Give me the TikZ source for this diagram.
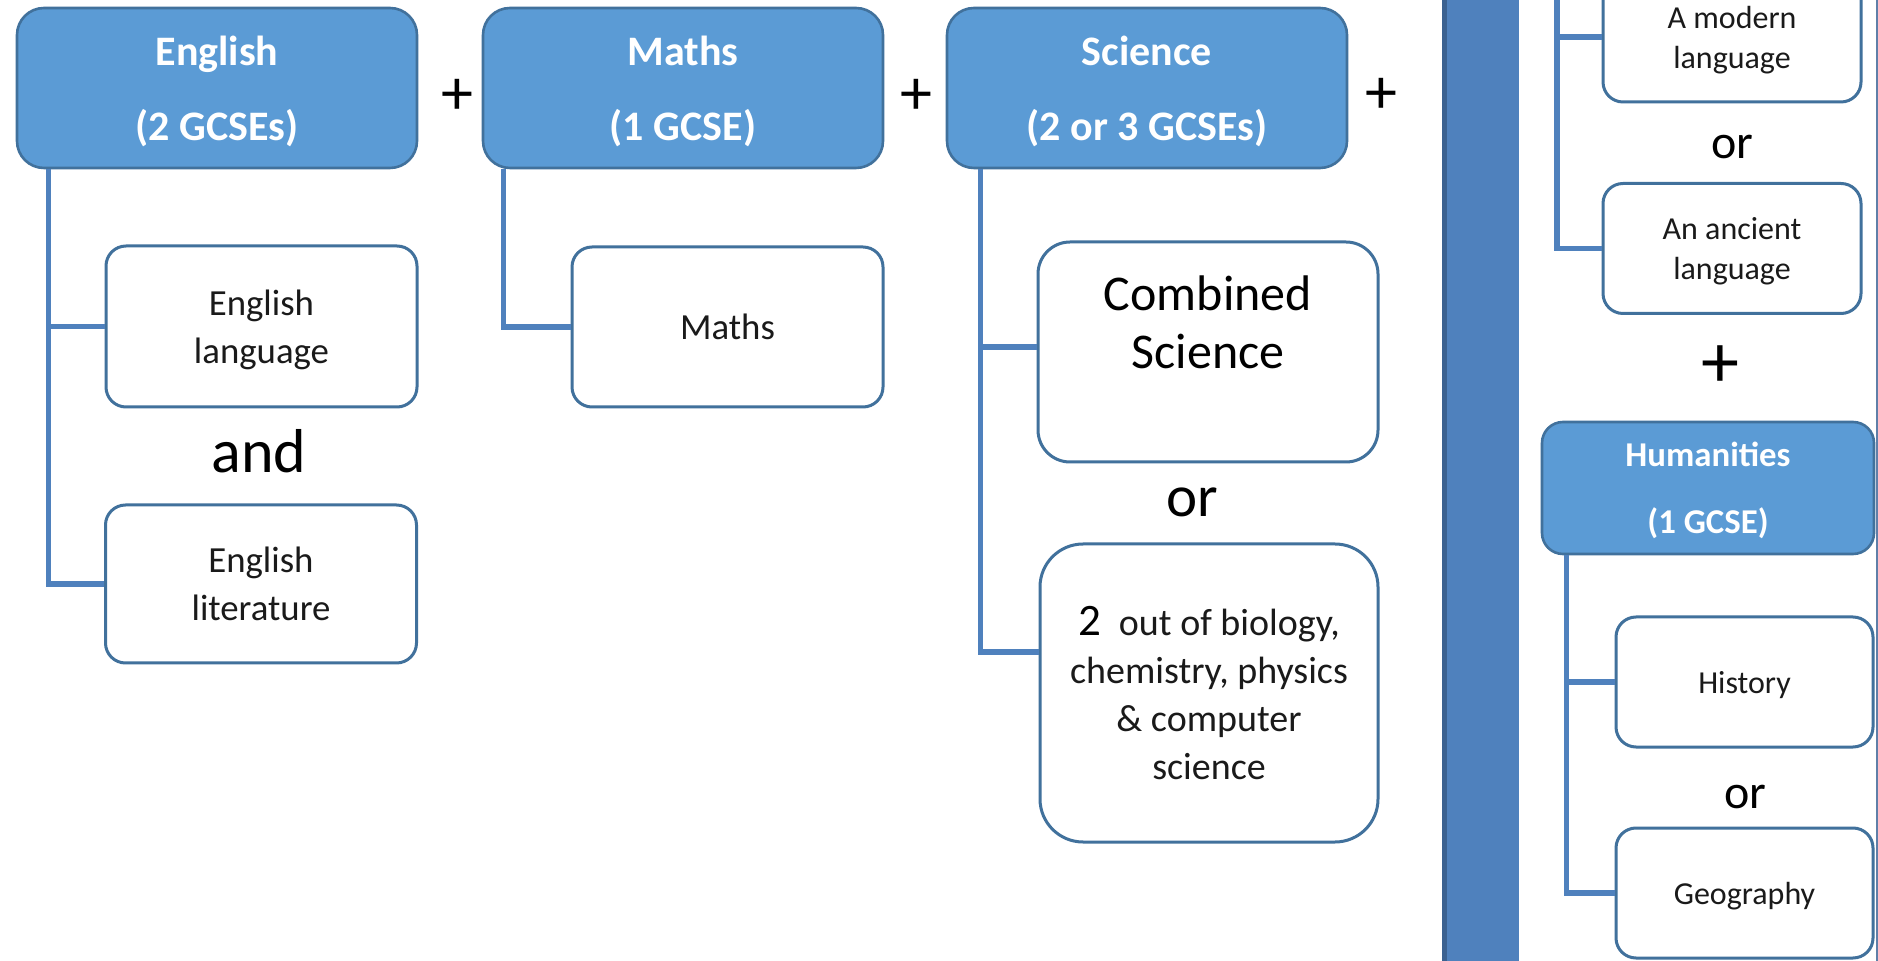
\documentclass[tikz,border=0pt]{standalone}
\usepackage{fontspec}
\setmainfont{Carlito}
\definecolor{hdrfill}{HTML}{5B9BD5}
\definecolor{hdrline}{HTML}{41719C}
\definecolor{boxline}{HTML}{41719C}
\definecolor{connline}{HTML}{4F81BD}
\definecolor{barfill}{HTML}{4F81BD}
\definecolor{bardark}{HTML}{3B6190}
\definecolor{edgeline}{HTML}{5F7FA8}
\definecolor{txt}{HTML}{1A1A1A}
\begin{document}
\begin{tikzpicture}[x=0.5pt,y=-0.5pt,
  hdr/.style={draw=hdrline, fill=hdrfill, line width=1.3pt, rounded corners=13.5pt,
    text=white, font=\bfseries\fontsize{21}{37.5}\selectfont, align=center,
    inner sep=0pt, text depth=0pt, minimum width=200pt, minimum height=80pt},
  smallhdr/.style={hdr, rounded corners=10.5pt, font=\bfseries\fontsize{17.4}{33.5}\selectfont,
    minimum width=166pt, minimum height=66pt},
  child/.style={draw=boxline, fill=white, line width=1.5pt, rounded corners=10pt,
    text=txt, font=\fontsize{18.4}{24}\selectfont, align=center, inner sep=0pt,
    text depth=0pt, minimum width=155.5pt, minimum height=80.5pt},
  rchild/.style={child, font=\fontsize{16}{20}\selectfont, minimum width=129pt, minimum height=65pt},
  conn/.style={draw=connline, line width=2.6pt},
  plus/.style={font=\fontsize{32}{32}\selectfont, text=black, inner sep=0pt},
  word/.style={font=\fontsize{#1}{#1}\selectfont, text=black, inner sep=0pt, anchor=base},
]
\useasboundingbox (0,0) rectangle (1878,961);
\fill[white] (0,0) rectangle (1878,961);
\clip (0,0) rectangle (1878,961);

% separator bar and right edge
\fill[barfill] (1442,-2) rectangle (1519,963);
\fill[bardark] (1442,-2) rectangle (1447,963);
\draw[edgeline, line width=0.6pt] (1877,-2) -- (1877,963);

% headers
\node[hdr] (eng) at (217,88) {English\\(2 GCSEs)};
\node[hdr] (mat) at (683,88) {Maths\\(1 GCSE)};
\node[hdr] (sci) at (1147,88) {Science\\(2 or 3 GCSEs)};
\node[smallhdr] (hum) at (1708,488) {Humanities\\(1 GCSE)};

% plus signs
\node[plus] (p1) at (457,97) {+};
\node[plus] (p2) at (916,97) {+};
\node[plus] (p3) at (1381,96) {+};
\node[plus, font=\fontsize{38}{38}\selectfont] (p4) at (1720,367) {+};

% children
\node[child] (englang) at (261.5,326.5) {English\\language};
\node[child, minimum height=79pt] (englit) at (261,584) {English\\literature};
\node[child, minimum height=80pt] (maths) at (727.5,327) {Maths};
\node[child, rounded corners=16pt, minimum width=170pt, minimum height=110pt] (comb) at (1208,352) {};
\node[font=\fontsize{25}{29}\selectfont, align=center, text=black, inner sep=0pt] (combt) at (1208,322) {Combined\\Science};
\node[child, rounded corners=21.5pt, minimum width=169pt, minimum height=149pt,
  font=\fontsize{19}{24}\selectfont, text=txt] (two) at (1209,693)
  {{\color{black}\fontsize{22.5}{24}\selectfont 2}\hspace{9pt}out of biology,\\chemistry, physics\\\& computer\\science};

\node[rchild] (modern) at (1732,37) {A modern\\language};
\node[rchild] (ancient) at (1732,248.5) {An ancient\\language};
\node[rchild, minimum width=128.5pt] (hist) at (1744.5,682) {History};
\node[rchild, minimum width=128.5pt] (geo) at (1744.5,893) {Geography};

% words between boxes
\node[word=31] (and) at (259,473) {and};
\node[word=29.5] (or1) at (1192,517) {or};
\node[word=24] (or2) at (1732,159) {or};
\node[word=24] (or3) at (1745,808) {or};

% connectors
\coordinate (ltop) at (1557,-5);
\draw[conn] ([xshift=16.5pt]eng.south west) |- (englang.west);
\draw[conn] ([xshift=16.5pt]eng.south west) |- (englit.west);
\draw[conn] ([xshift=11pt]mat.south west) |- (maths.west);
\draw[conn] ([xshift=17.5pt]sci.south west) |- ([yshift=2.5pt]comb.west);
\draw[conn] ([xshift=17.5pt]sci.south west) |- ([yshift=20.5pt]two.west);
\draw[conn] (ltop) |- (modern.west);
\draw[conn] (ltop) |- (ancient.west);
\draw[conn] ([xshift=13pt]hum.south west) |- (hist.west);
\draw[conn] ([xshift=13pt]hum.south west) |- (geo.west);
\end{tikzpicture}
\end{document}
